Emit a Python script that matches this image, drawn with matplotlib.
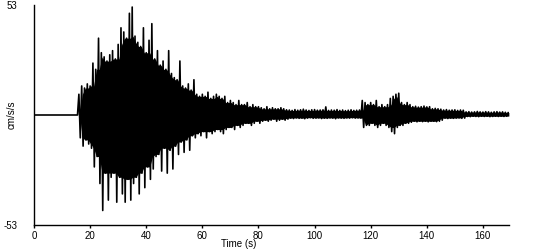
import numpy as np
import matplotlib
matplotlib.use('Agg')
import matplotlib.pyplot as plt

# ================= 数据 (从图上读取的峰值包络, 每秒一个) =================
Y_LIMIT = 53
X_TICKS = [0, 20, 40, 60, 80, 100, 120, 140, 160]
X_END = 169.3

# 每秒的正向峰值 (cm/s/s), t = 0..169
UP = [0, 0, 0, 0, 0, 0, 0, 0, 0, 0,
      0, 0, 0, 0, 0, 0, 10, 14, 13, 15,
      14, 25, 22, 37, 30, 28, 26, 29, 31, 27,
      34, 42, 40, 37, 49, 52, 38, 35, 33, 42,
      30, 36, 44, 27, 31, 24, 26, 22, 31, 20,
      18, 17, 26, 14, 13, 15, 12, 17, 10, 9,
      10, 9, 11, 8, 9, 10, 9, 8, 9, 6,
      7, 6, 5, 7, 5, 5, 6, 4, 5, 4,
      4, 3.5, 3, 4, 3, 3.5, 3, 3, 3.5, 3,
      2.5, 2.4, 2.2, 2.6, 2.3, 2.5, 2.8, 2.4, 2.2, 2.5,
      2.6, 2.3, 2.4, 2.5, 3.9, 2.2, 2.4, 2.3, 2.6, 2.2,
      2.4, 2.1, 2.3, 2.5, 2.2, 2.3, 2.4, 7, 6, 5,
      6, 5, 7, 4, 5, 4, 5, 8, 9, 10,
      10.5, 6, 5, 6, 5, 4, 4.2, 3.8, 4, 4.3,
      3.9, 4, 3, 3.2, 3, 2.8, 2.4, 2.6, 2.3, 2.4,
      2.5, 2.2, 2.4, 2.3, 1.5, 1.6, 1.4, 1.5, 1.7, 1.5,
      1.4, 1.6, 1.5, 1.3, 1.5, 1.6, 1.4, 1.5, 1.3, 1.2]

# 每秒的负向峰值 (cm/s/s), 在 t + 0.5 处
LO = [0, 0, 0, 0, 0, 0, 0, 0, 0, 0,
      0, 0, 0, 0, 0, 0, -11, -15, -12, -14,
      -16, -25, -20, -33, -46, -28, -41, -30, -28, -42,
      -30, -38, -42, -31, -41, -33, -30, -38, -28, -35,
      -25, -31, -26, -20, -19, -27, -16, -28, -17, -26,
      -15, -19, -13, -18, -12, -17, -10, -11, -9, -10,
      -8, -11, -8, -9, -8, -7, -8, -9, -7, -6,
      -6, -7, -5, -6, -5, -4, -4, -5, -4, -3,
      -4, -3, -2.5, -3, -2.5, -2, -3, -2.5, -2, -2.5,
      -2, -1.5, -1.7, -1.4, -1.6, -1.5, -1.8, -1.5, -1.3, -1.6,
      -1.5, -1.4, -1.7, -1.5, -1.6, -1.4, -1.5, -1.8, -1.4, -1.5,
      -1.6, -1.4, -1.5, -1.3, -1.5, -1.4, -1.5, -6, -5, -5,
      -4, -5, -6, -5, -4, -5, -6, -8, -9, -6,
      -5, -5, -4, -4, -3.5, -3, -3.3, -3, -3.2, -3,
      -3.3, -3, -3, -3.2, -3, -2.5, -1.5, -1.7, -1.5, -1.6,
      -1.5, -1.4, -1.6, -1.5, -0.7, -0.8, -0.6, -0.7, -0.8, -0.6,
      -0.7, -0.6, -0.8, -0.7, -0.6, -0.7, -0.6, -0.7, -0.6, -0.5]


def rolling_core(values, upper=True):
    # 相邻三个峰值里最小的那个, 作为实心部分
    v = np.abs(np.asarray(values, dtype=float))
    padded = np.concatenate([[v[0]], v, [v[-1]]])
    core = np.minimum(np.minimum(padded[:-2], padded[1:-1]), padded[2:])
    return core if upper else -core


def main():
    t = np.arange(len(UP), dtype=float)
    # 正负峰值交替连接成波形
    trace_t = np.column_stack([t, t + 0.5]).ravel()
    trace_a = np.column_stack([UP, LO]).ravel()

    plt.rcParams['font.family'] = ['Liberation Sans', 'DejaVu Sans']
    fig = plt.figure(figsize=(5.5, 2.5), dpi=100)
    ax = fig.add_axes([34 / 550, 0.1, 475 / 550, 0.88])

    ax.fill_between(t + 0.25, rolling_core(LO, False), rolling_core(UP, True),
                    color='black', linewidth=0)
    ax.plot(trace_t, trace_a, color='black', linewidth=1.2)

    ax.set_xlim(0, X_END)
    ax.set_ylim(-Y_LIMIT, Y_LIMIT)
    ax.set_xticks(X_TICKS)
    ax.set_yticks([-Y_LIMIT, Y_LIMIT])
    ax.set_yticklabels([str(-Y_LIMIT), str(Y_LIMIT)])
    ax.tick_params(axis='x', length=2, width=1, labelsize=7, pad=2)
    ax.tick_params(axis='y', length=0, labelsize=7, pad=12)

    for side in ['top', 'right']:
        ax.spines[side].set_visible(False)
    for side in ['left', 'bottom']:
        ax.spines[side].set_linewidth(1)

    ax.set_xlabel('Time (s)', fontsize=7)
    ax.xaxis.set_label_coords(0.43, -0.065)
    ax.xaxis.label.set_verticalalignment('top')
    ax.set_ylabel('cm/s/s', fontsize=7)
    ax.yaxis.set_label_coords(-0.036, 0.5)

    fig.savefig('out.png', dpi=100)


if __name__ == '__main__':
    main()
